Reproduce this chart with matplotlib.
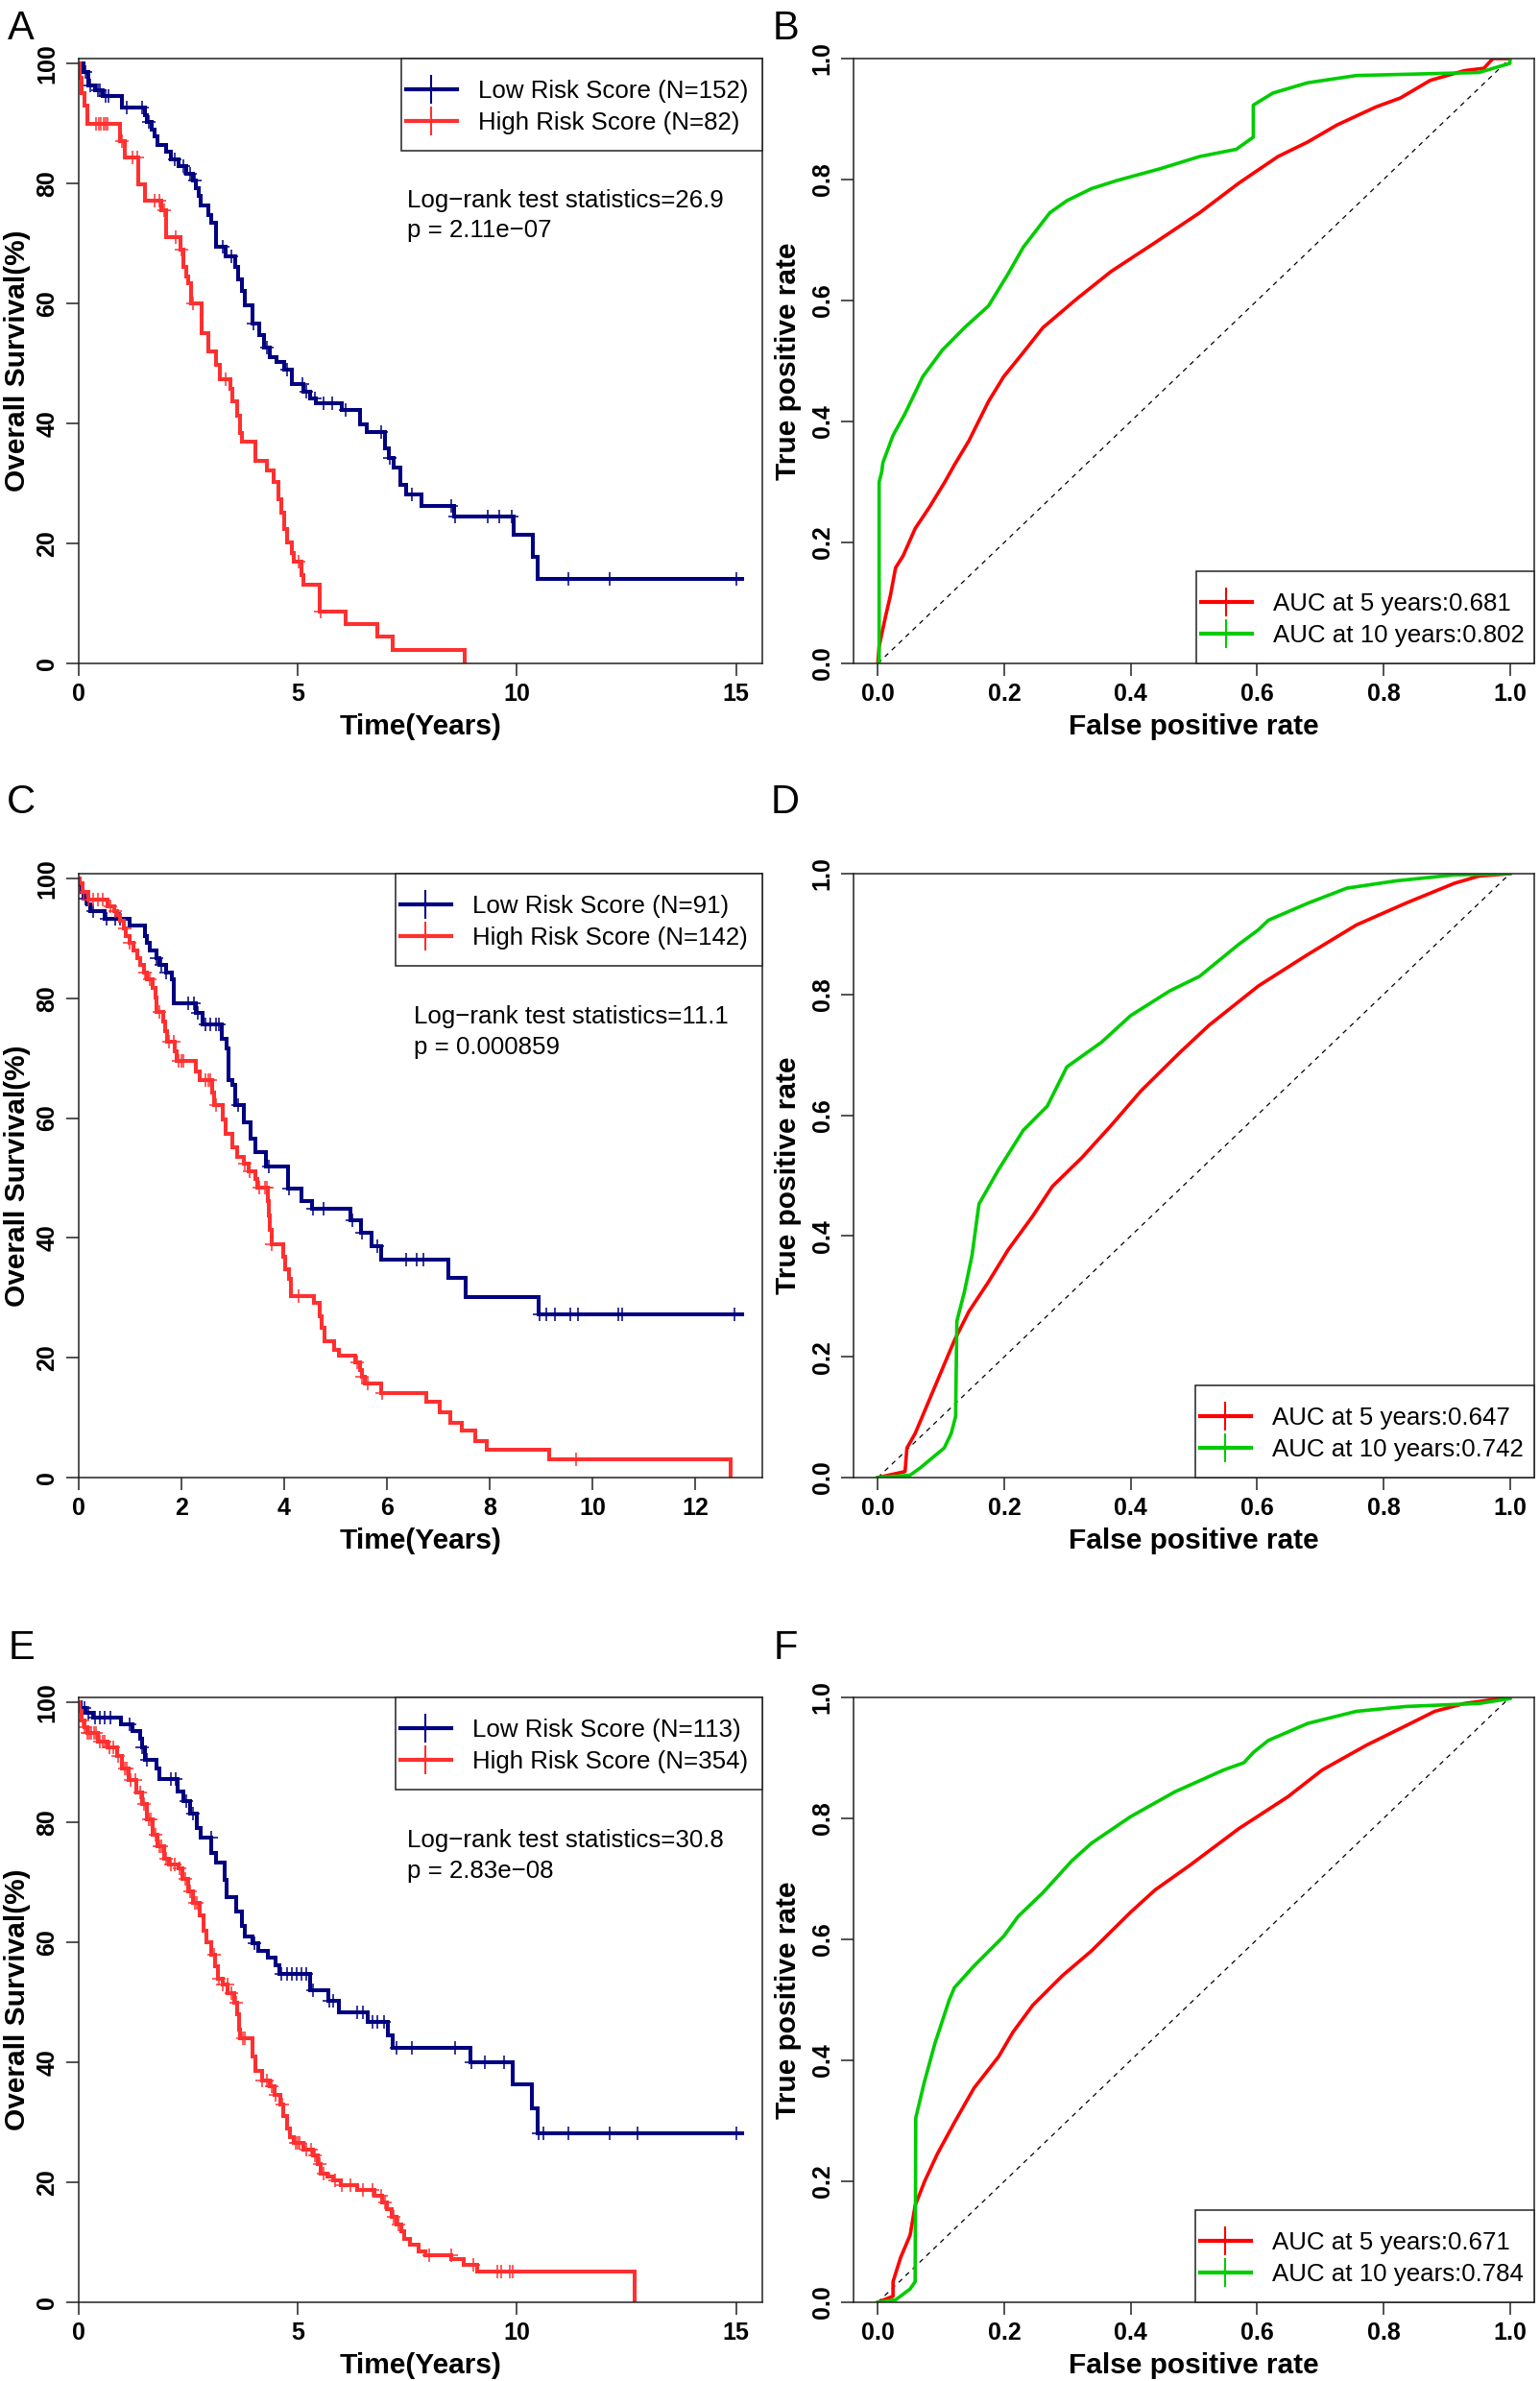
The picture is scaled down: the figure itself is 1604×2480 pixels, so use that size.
import numpy as np
import matplotlib
matplotlib.use("Agg")
import matplotlib.pyplot as plt
from matplotlib.lines import Line2D
from matplotlib.patches import Rectangle

plt.rcParams['font.family'] = ['Liberation Sans', 'DejaVu Sans']

# ---------------- Kaplan-Meier data (time in years, survival in %) ----------------
# Panel A
a_low_t = [0.11, 0.22, 0.39, 0.56, 1.0, 1.52, 1.57, 1.68, 1.73, 1.81, 2.01, 2.12, 2.29, 2.46, 2.62,
           2.68, 2.74, 2.79, 2.96, 3.02, 3.15, 3.35, 3.57, 3.65, 3.74, 3.80, 3.97, 4.13, 4.24, 4.36,
           4.52, 4.69, 4.88, 5.14, 5.28, 5.42, 6.0, 6.42, 6.57, 7.0, 7.09, 7.2, 7.35, 7.48, 7.82,
           8.57, 9.92, 10.36, 10.47]
a_low_s = [98.5, 96.3, 95.5, 94.5, 92.6, 91.4, 90.2, 89.0, 87.8, 86.4, 85.3, 84.0, 82.9, 81.6, 80.4,
           79.2, 78.0, 76.3, 74.7, 73.5, 69.4, 67.8, 66.1, 64.0, 62.0, 59.6, 56.7, 54.7, 52.7, 51.0,
           50.2, 49.0, 46.5, 45.3, 44.1, 43.3, 42.2, 39.8, 38.5, 35.9, 34.3, 32.7, 29.8, 28.2, 26.3,
           24.5, 21.4, 17.8, 14.1]
a_low_end = 15.13
a_low_cens = [0.17, 0.28, 0.45, 0.5, 0.62, 0.68, 1.1, 1.45, 1.6, 2.2, 2.4, 2.55, 2.65, 3.3, 3.5, 4.0,
              4.3, 4.75, 5.1, 5.2, 5.4, 5.6, 5.8, 6.1, 6.9, 7.1, 7.6, 8.5, 8.6, 9.33, 9.6, 9.88,
              11.17, 12.12, 15.0]
a_high_t = [0.03, 0.08, 0.13, 0.2, 0.95, 1.06, 1.37, 1.53, 1.90, 2.01, 2.32, 2.40, 2.46, 2.51, 2.57,
            2.81, 2.96, 3.13, 3.22, 3.46, 3.52, 3.62, 3.69, 3.74, 4.04, 4.30, 4.45, 4.56, 4.64, 4.69,
            4.75, 4.86, 4.91, 5.08, 5.14, 5.50, 6.09, 6.81, 7.18, 8.82]
a_high_s = [97.6, 95.1, 93.0, 90.0, 87.1, 84.3, 79.9, 77.1, 75.5, 71.0, 69.0, 66.1, 64.5, 63.3, 60.0,
            55.1, 52.0, 49.8, 47.3, 45.7, 43.7, 41.2, 38.4, 36.9, 33.7, 32.1, 30.2, 27.3, 25.1, 22.4,
            20.2, 18.4, 16.9, 14.7, 13.1, 8.7, 6.5, 4.5, 2.3, 0.0]
a_high_end = 8.82
a_high_cens = [0.4, 0.46, 0.51, 0.57, 0.62, 0.67, 1.0, 1.23, 1.34, 1.73, 1.84, 1.96, 2.23, 2.35,
               2.62, 3.35, 5.03, 5.53]

# Panel C
c_low_t = [0.03, 0.06, 0.10, 0.17, 0.24, 0.52, 1.0, 1.29, 1.33, 1.38, 1.52, 1.57, 1.71, 1.81, 1.86,
           2.29, 2.41, 2.79, 2.88, 2.92, 3.0, 3.05, 3.21, 3.35, 3.45, 3.65, 4.08, 4.33, 4.55, 5.30,
           5.50, 5.71, 5.89, 7.19, 7.54, 8.95]
c_low_s = [99.0, 97.8, 96.6, 95.6, 94.5, 93.3, 92.1, 90.4, 89.2, 88.0, 86.7, 85.5, 84.3, 83.1, 79.1,
           77.6, 75.7, 73.2, 71.6, 66.3, 65.5, 62.2, 59.3, 56.5, 54.4, 52.0, 48.3, 46.2, 44.8, 43.0,
           40.8, 38.6, 36.4, 33.3, 30.1, 27.3]
c_low_end = 12.9
c_low_cens = [0.14, 0.29, 0.55, 0.71, 0.81, 1.52, 1.62, 1.71, 2.14, 2.24, 2.33, 2.48, 2.57, 2.67,
              2.74, 3.1, 3.7, 4.1, 4.57, 4.76, 5.33, 5.52, 5.81, 6.38, 6.57, 6.71, 8.96, 9.1, 9.27,
              9.57, 9.71, 10.5, 10.57, 12.76]
c_high_t = [0.03, 0.08, 0.19, 0.57, 0.69, 0.76, 0.81, 0.88, 0.93, 1.0, 1.07, 1.14, 1.21, 1.27, 1.33,
            1.45, 1.50, 1.52, 1.65, 1.69, 1.73, 1.88, 1.92, 2.29, 2.36, 2.60, 2.64, 2.81, 2.86, 2.99,
            3.08, 3.21, 3.31, 3.45, 3.48, 3.69, 3.71, 3.73, 3.76, 3.98, 4.03, 4.10, 4.14, 4.59, 4.69,
            4.74, 4.78, 4.97, 5.07, 5.38, 5.48, 5.52, 5.57, 5.88, 6.76, 7.02, 7.24, 7.45, 7.71, 7.95,
            9.16, 12.69]
c_high_s = [99.2, 97.8, 96.4, 95.3, 94.5, 93.9, 92.9, 91.7, 90.4, 89.2, 88.0, 86.7, 85.5, 84.3, 83.1,
            81.8, 80.2, 77.7, 76.1, 74.5, 72.8, 71.2, 69.6, 67.8, 66.3, 64.2, 62.2, 59.7, 57.3, 55.2,
            53.6, 52.4, 51.1, 49.9, 48.4, 46.2, 43.8, 41.3, 39.0, 36.8, 34.8, 33.1, 30.3, 29.1, 27.0,
            25.0, 22.7, 21.3, 20.3, 19.2, 18.0, 16.8, 15.7, 14.1, 12.7, 10.9, 9.2, 7.8, 6.1, 4.7,
            3.1, 0.0]
c_high_end = 12.69
c_high_cens = [0.1, 0.19, 0.29, 0.38, 0.48, 0.62, 0.71, 0.9, 1.0, 1.29, 1.38, 1.57, 1.76, 1.86, 1.95,
               2.0, 2.05, 2.48, 2.52, 2.57, 2.67, 3.24, 3.33, 3.52, 3.62, 3.67, 3.76, 4.29, 5.43,
               5.52, 5.62, 5.9, 9.67]

# Panel E
e_low_t = [0.06, 0.17, 0.34, 0.98, 1.23, 1.42, 1.45, 1.51, 1.79, 1.84, 2.26, 2.40, 2.55, 2.70, 2.79,
           3.04, 3.15, 3.33, 3.38, 3.61, 3.74, 3.80, 3.97, 4.11, 4.33, 4.50, 4.58, 5.28, 5.70, 5.94,
           6.59, 7.06, 7.17, 8.94, 9.91, 10.35, 10.47]
e_low_s = [99.0, 98.2, 97.4, 96.3, 95.2, 93.9, 92.5, 90.4, 89.0, 87.2, 85.1, 83.5, 81.5, 79.0, 77.4,
           74.9, 73.3, 70.4, 67.6, 65.1, 62.7, 61.0, 59.8, 58.6, 57.4, 56.1, 54.7, 52.0, 50.2, 48.4,
           46.7, 44.5, 42.4, 40.0, 36.4, 32.3, 28.2]
e_low_end = 15.13
e_low_cens = [0.13, 0.22, 0.39, 0.50, 0.61, 0.73, 1.17, 1.46, 1.56, 2.12, 2.23, 2.46, 2.62, 3.02,
              4.02, 4.63, 4.75, 4.86, 4.97, 5.08, 5.19, 5.36, 5.72, 5.81, 6.37, 6.48, 6.70, 6.81,
              6.98, 7.26, 7.6, 8.6, 8.96, 9.27, 9.72, 10.5, 10.61, 11.17, 12.12, 12.76, 15.0]
e_high_t = [0.03, 0.08, 0.13, 0.2, 0.45, 0.67, 0.89, 1.0, 1.14, 1.32, 1.45, 1.56, 1.70, 1.81, 1.95,
            2.07, 2.29, 2.37, 2.51, 2.62, 2.77, 2.85, 2.93, 3.02, 3.11, 3.18, 3.29, 3.41, 3.55, 3.63,
            3.66, 3.69, 3.97, 4.04, 4.19, 4.36, 4.47, 4.60, 4.67, 4.75, 4.83, 4.91, 5.14, 5.36, 5.47,
            5.53, 5.67, 5.81, 5.98, 6.37, 6.76, 6.93, 7.04, 7.15, 7.26, 7.37, 7.43, 7.57, 7.76, 7.91,
            8.51, 8.80, 9.10, 12.68]
e_high_s = [98.5, 97.0, 95.8, 94.9, 93.5, 92.5, 91.0, 89.0, 87.0, 85.0, 83.0, 80.5, 78.0, 76.0, 74.0,
            73.0, 72.3, 70.5, 68.5, 66.5, 64.5, 62.0, 60.0, 58.0, 56.0, 54.0, 53.0, 51.5, 50.0, 48.0,
            45.5, 44.0, 41.0, 38.5, 37.0, 36.0, 34.5, 33.0, 31.0, 29.0, 27.5, 26.5, 25.5, 24.5, 23.0,
            21.5, 21.0, 20.3, 19.6, 18.7, 17.8, 16.7, 15.5, 14.2, 13.0, 11.8, 10.6, 9.6, 8.5, 7.8,
            7.2, 6.2, 5.2, 0.0]
e_high_end = 12.68
e_high_cens = [0.1, 0.15, 0.2, 0.25, 0.3, 0.35, 0.4, 0.5, 0.55, 0.6, 0.7, 0.8, 0.9, 1.05, 1.1, 1.2,
               1.3, 1.4, 1.5, 1.6, 1.65, 1.75, 1.85, 1.9, 2.0, 2.1, 2.2, 2.3, 2.45, 2.55, 2.65, 2.7,
               3.1, 3.2, 3.3, 3.4, 3.5, 3.6, 3.75, 3.8, 4.2, 4.3, 4.4, 4.5, 4.65, 4.95, 5.0, 5.05,
               5.2, 5.3, 5.4, 5.5, 5.6, 5.85, 6.0, 6.2, 6.5, 6.7, 6.9, 7.0, 7.2, 7.3, 8.0, 8.5, 9.0,
               9.55, 9.65, 9.83, 9.9]

km_labels = [("Low Risk Score (N=152)", "High Risk Score (N=82)"),
             ("Low Risk Score (N=91)", "High Risk Score (N=142)"),
             ("Low Risk Score (N=113)", "High Risk Score (N=354)")]
km_stats = [("Log\u2212rank test statistics=26.9", "p = 2.11e\u221207"),
            ("Log\u2212rank test statistics=11.1", "p = 0.000859"),
            ("Log\u2212rank test statistics=30.8", "p = 2.83e\u221208")]
km_xmax = [15.6, 13.3, 15.6]
km_xticks = [[0, 5, 10, 15], [0, 2, 4, 6, 8, 10, 12], [0, 5, 10, 15]]

# ---------------- ROC data ----------------
b_fpr5 = [0, 0.002, 0.012, 0.02, 0.028, 0.04, 0.059, 0.082, 0.106, 0.121, 0.144, 0.175, 0.199, 0.23,
          0.261, 0.315, 0.369, 0.439, 0.509, 0.571, 0.633, 0.68, 0.726, 0.788, 0.827, 0.874, 0.928,
          0.959, 0.973, 1.0]
b_tpr5 = [0, 0.028, 0.077, 0.113, 0.158, 0.178, 0.223, 0.259, 0.30, 0.328, 0.368, 0.433, 0.474, 0.514,
          0.555, 0.603, 0.648, 0.696, 0.745, 0.794, 0.838, 0.862, 0.89, 0.92, 0.935, 0.964, 0.98,
          0.984, 1.0, 1.0]
b_fpr10 = [0, 0.002, 0.002, 0.006, 0.008, 0.024, 0.043, 0.071, 0.102, 0.137, 0.175, 0.206, 0.23, 0.272,
           0.299, 0.338, 0.377, 0.447, 0.509, 0.567, 0.594, 0.594, 0.625, 0.68, 0.757, 0.951, 1.0, 1.0]
b_tpr10 = [0, 0.0, 0.30, 0.316, 0.332, 0.377, 0.413, 0.474, 0.518, 0.555, 0.591, 0.644, 0.688, 0.745,
           0.765, 0.785, 0.798, 0.818, 0.838, 0.85, 0.87, 0.923, 0.943, 0.96, 0.972, 0.977, 0.992, 1.0]

d_fpr5 = [0, 0.043, 0.046, 0.059, 0.09, 0.121, 0.144, 0.175, 0.206, 0.245, 0.276, 0.323, 0.369, 0.416,
          0.478, 0.524, 0.602, 0.68, 0.757, 0.835, 0.912, 0.951, 1.0]
d_tpr5 = [0, 0.01, 0.049, 0.073, 0.15, 0.227, 0.275, 0.324, 0.377, 0.433, 0.482, 0.53, 0.583, 0.64,
          0.704, 0.749, 0.814, 0.866, 0.915, 0.951, 0.984, 0.996, 1.0]
d_fpr10 = [0, 0.051, 0.067, 0.105, 0.116, 0.123, 0.125, 0.137, 0.149, 0.16, 0.191, 0.23, 0.268, 0.299,
           0.354, 0.4, 0.462, 0.509, 0.571, 0.602, 0.618, 0.68, 0.742, 0.819, 0.912, 1.0]
d_tpr10 = [0, 0.004, 0.016, 0.049, 0.073, 0.101, 0.259, 0.308, 0.368, 0.453, 0.51, 0.575, 0.615, 0.68,
           0.721, 0.765, 0.806, 0.83, 0.883, 0.907, 0.923, 0.951, 0.976, 0.988, 0.998, 1.0]

f_fpr5 = [0, 0.024, 0.024, 0.036, 0.051, 0.059, 0.074, 0.094, 0.121, 0.152, 0.191, 0.214, 0.245, 0.292,
          0.338, 0.4, 0.439, 0.493, 0.571, 0.649, 0.703, 0.773, 0.835, 0.881, 0.928, 1.0]
f_tpr5 = [0, 0.01, 0.034, 0.074, 0.111, 0.16, 0.2, 0.245, 0.297, 0.354, 0.406, 0.447, 0.491, 0.54,
          0.581, 0.645, 0.682, 0.722, 0.783, 0.836, 0.88, 0.921, 0.953, 0.977, 0.99, 1.0]
f_fpr10 = [0, 0.028, 0.051, 0.059, 0.06, 0.073, 0.09, 0.113, 0.121, 0.152, 0.199, 0.222, 0.261, 0.307,
           0.338, 0.4, 0.47, 0.547, 0.579, 0.594, 0.618, 0.68, 0.757, 0.835, 0.951, 1.0]
f_tpr10 = [0, 0.004, 0.022, 0.034, 0.305, 0.362, 0.427, 0.5, 0.52, 0.556, 0.605, 0.638, 0.677, 0.73,
           0.759, 0.803, 0.844, 0.88, 0.892, 0.909, 0.929, 0.957, 0.977, 0.985, 0.99, 0.998]

roc_labels = [("AUC at 5 years:0.681", "AUC at 10 years:0.802"),
              ("AUC at 5 years:0.647", "AUC at 10 years:0.742"),
              ("AUC at 5 years:0.671", "AUC at 10 years:0.784")]
roc_ticks = [0.0, 0.2, 0.4, 0.6, 0.8, 1.0]
roc_ticklabels = ["0.0", "0.2", "0.4", "0.6", "0.8", "1.0"]
panel_letters = ["A", "B", "C", "D", "E", "F"]

# ---------------- styles ----------------
BLUE = "#000080"
RED_KM = "#FF3030"
RED = "#FF0000"
GREEN = "#00CC00"
TICK_FS = 18
LABEL_FS = 21.5
TEXT_FS = 18.6

W, H = 1604, 2480
fig = plt.figure(figsize=(W / 100, H / 100), dpi=100)

rows_px = [(61, 691), (910, 1539), (1768, 2398)]
left_col = (81.6, 794)
right_col = (889, 1598)
km_box_left = [418, 412, 412]     # legend frame left edge (px)
roc_box_left = [1246, 1245, 1245]
BOX_H = 96


def make_ax(col, row):
    x0, x1 = col
    y0, y1 = rows_px[row]
    return fig.add_axes([x0 / W, 1 - y1 / H, (x1 - x0) / W, (y1 - y0) / H])


def style_axes(ax):
    for sp in ax.spines.values():
        sp.set_linewidth(1.1)
        sp.set_color("#222222")
    ax.tick_params(direction="out", length=9.5, width=1.1, labelsize=TICK_FS, pad=5.0,
                   color="#222222")
    for lab in ax.get_xticklabels() + ax.get_yticklabels():
        lab.set_fontweight("bold")
    for lab in ax.get_yticklabels():
        lab.set_rotation(90)
        lab.set_va("center")


def km_curve(times, surv, end):
    t = np.concatenate([[0.0], np.asarray(times, float)])
    s = np.concatenate([[100.0], np.asarray(surv, float)])
    if s[-1] > 0:
        t = np.append(t, end)
        s = np.append(s, s[-1])
    return t, s


def surv_at(times, surv, c):
    t = np.asarray(times, float)
    s = np.concatenate([[100.0], np.asarray(surv, float)])
    idx = np.searchsorted(t, np.asarray(c, float), side="right")
    return s[idx]


def framed_legend(ax, col, row, handles, labels, box_left, at_top):
    """Legend contents via ax.legend, frame drawn as a rectangle (R-style padding)."""
    x0, x1 = col
    y0, y1 = rows_px[row]
    aw, ah = x1 - x0, y1 - y0
    if at_top:
        top_px = y0
    else:
        top_px = y1 - BOX_H
    fx = (box_left - x0) / aw
    fy = 1 - (top_px + BOX_H - y0) / ah
    ax.add_patch(Rectangle((fx, fy), 1 - fx, BOX_H / ah, transform=ax.transAxes,
                           facecolor="white", edgecolor="#222222", lw=1.1, zorder=4,
                           clip_on=False))
    ax_x = (box_left + 5 - x0) / aw
    ax_y = 1 - (top_px + 22 - y0) / ah
    leg = ax.legend(handles, labels, loc="upper left", bbox_to_anchor=(ax_x, ax_y),
                    borderaxespad=0, borderpad=0, fontsize=TEXT_FS, frameon=False,
                    labelspacing=0.34, handlelength=2.05, handletextpad=0.85)
    leg.set_zorder(5)
    return leg


km_data = [
    (a_low_t, a_low_s, a_low_end, a_low_cens, a_high_t, a_high_s, a_high_end, a_high_cens),
    (c_low_t, c_low_s, c_low_end, c_low_cens, c_high_t, c_high_s, c_high_end, c_high_cens),
    (e_low_t, e_low_s, e_low_end, e_low_cens, e_high_t, e_high_s, e_high_end, e_high_cens),
]
roc_data = [
    (b_fpr5, b_tpr5, b_fpr10, b_tpr10),
    (d_fpr5, d_tpr5, d_fpr10, d_tpr10),
    (f_fpr5, f_tpr5, f_fpr10, f_tpr10),
]

for r in range(3):
    # ---- KM panel ----
    ax = make_ax(left_col, r)
    lt, ls, lend, lc, ht, hs, hend, hc = km_data[r]
    for (tt, ss, ee, cc, colr) in [(lt, ls, lend, lc, BLUE), (ht, hs, hend, hc, RED_KM)]:
        x, y = km_curve(tt, ss, ee)
        ax.step(x, y, where="post", color=colr, lw=2.9, solid_joinstyle="miter")
        ax.plot(cc, surv_at(tt, ss, cc), ls="none", marker="+", ms=10, mew=1.1, color=colr)
    ax.set_xlim(0, km_xmax[r])
    ax.set_ylim(0, 100.8)
    ax.set_xticks(km_xticks[r])
    ax.set_yticks([0, 20, 40, 60, 80, 100])
    style_axes(ax)
    ax.set_xlabel("Time(Years)", fontsize=LABEL_FS, fontweight="bold", labelpad=6)
    ax.set_ylabel("Overall Survival(%)", fontsize=LABEL_FS, fontweight="bold", labelpad=4)
    handles = [Line2D([], [], color=BLUE, lw=3, marker="|", ms=22, mew=1.5),
               Line2D([], [], color=RED_KM, lw=3, marker="|", ms=22, mew=1.5)]
    framed_legend(ax, left_col, r, handles, list(km_labels[r]), km_box_left[r], True)
    xs = [0.4806, 0.4905, 0.481][r]
    ys1 = [0.754, 0.752, 0.752][r]
    ys2 = [0.705, 0.701, 0.702][r]
    ax.text(xs, ys1, km_stats[r][0], transform=ax.transAxes, fontsize=TEXT_FS, va="baseline")
    ax.text(xs, ys2, km_stats[r][1], transform=ax.transAxes, fontsize=TEXT_FS, va="baseline")

    # ---- ROC panel ----
    ax2 = make_ax(right_col, r)
    f5, t5, f10, t10 = roc_data[r]
    ax2.plot([0, 1], [0, 1], color="black", lw=0.9, ls=(0, (4, 4)))
    ax2.plot(f5, t5, color=RED, lw=2.6)
    ax2.plot(f10, t10, color=GREEN, lw=2.6)
    ax2.set_xlim(-0.0385, 1.0385)
    ax2.set_ylim(0, 1)
    ax2.set_xticks(roc_ticks)
    ax2.set_xticklabels(roc_ticklabels)
    ax2.set_yticks(roc_ticks)
    ax2.set_yticklabels(roc_ticklabels)
    style_axes(ax2)
    ax2.set_xlabel("False positive rate", fontsize=LABEL_FS, fontweight="bold", labelpad=6)
    ax2.set_ylabel("True positive rate", fontsize=LABEL_FS, fontweight="bold", labelpad=7)
    handles = [Line2D([], [], color=RED, lw=3, marker="|", ms=22, mew=1.5),
               Line2D([], [], color=GREEN, lw=3, marker="|", ms=22, mew=1.5)]
    framed_legend(ax2, right_col, r, handles, list(roc_labels[r]), roc_box_left[r], False)

# panel letters
letter_pos = [(22, 30), (818, 30), (22, 836), (818, 836), (22, 1717), (818, 1717)]
for letter, (px, py) in zip(panel_letters, letter_pos):
    fig.text(px / W, 1 - py / H, letter, fontsize=30, ha="center", va="center")

fig.savefig("out.png", dpi=100)
